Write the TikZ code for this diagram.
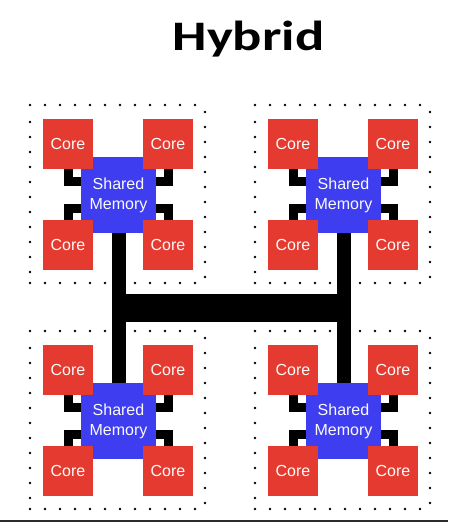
\documentclass[tikz,border=0pt]{standalone}
\usepackage{fontspec}
\setmainfont{Liberation Sans}
\newfontfamily\titlefont{Carlito}
\definecolor{coreRed}{RGB}{229,58,48}
\definecolor{memBlue}{RGB}{62,62,240}
\definecolor{rule}{RGB}{45,45,45}

\begin{document}
\begin{tikzpicture}[x=1pt, y=-1pt,
	core/.style={fill=coreRed, minimum size=50pt, inner sep=0pt, text=white!96!gray, font=\fontsize{16}{20}\selectfont},
	shmem/.style={fill=memBlue, minimum width=75pt, minimum height=76pt, inner sep=0pt, align=center, text=white!96!gray, font=\fontsize{16}{20}\selectfont},
	link/.style={line width=9pt},
	bus/.style={line width=14pt},
	dot/.style={fill=black}]
	\useasboundingbox (0,0) rectangle (448,522);
	\node[anchor=base, font=\titlefont\bfseries\fontsize{42}{50}\selectfont] (title) at (248.5,50) {\scalebox{1.3}[1]{Hybrid}};
	% four clusters of cores round a shared memory
	\foreach \cl/\dx/\dy in {tl/0/0, tr/225/0, bl/0/226, br/225/226} {
		\begin{scope}[shift={(\dx,\dy)}]
			\foreach \i in {0,...,11} {
				\fill[dot] (30+15*\i,105) circle (1.3);
				\fill[dot] (30+15*\i,283) circle (1.3);
				\fill[dot] (205,112+15*\i) circle (1.3);
			}
			\foreach \i in {0,...,10}
				\fill[dot] (30,122+15*\i) circle (1.3);
			\node[shmem] (\cl-mem) at (118.5,195) {Shared\\Memory};
			\node[core] (\cl-c1) at (68,144) {Core};
			\node[core] (\cl-c2) at (168,144) {Core};
			\node[core] (\cl-c3) at (68,245) {Core};
			\node[core] (\cl-c4) at (168,245) {Core};
			\draw[link] (\cl-c1.south) |- ([yshift=14pt]\cl-mem.west);
			\draw[link] (\cl-c2.south) |- ([yshift=14pt]\cl-mem.east);
			\draw[link] (\cl-c3.north) |- ([yshift=-13pt]\cl-mem.west);
			\draw[link] (\cl-c4.north) |- ([yshift=-13pt]\cl-mem.east);
		\end{scope}
	}
	% the bus between the clusters
	\coordinate (hub) at (0,307.5);
	\draw[bus] (tl-mem.south) -- (bl-mem.north);
	\draw[bus] (tr-mem.south) -- (br-mem.north);
	\draw[line width=28pt] ([xshift=-7pt]tl-mem.south |- hub) -- ([xshift=7pt]tr-mem.south |- hub);
	\draw[rule, line width=2pt] (0,521) -- (448,521);
\end{tikzpicture}
\end{document}
